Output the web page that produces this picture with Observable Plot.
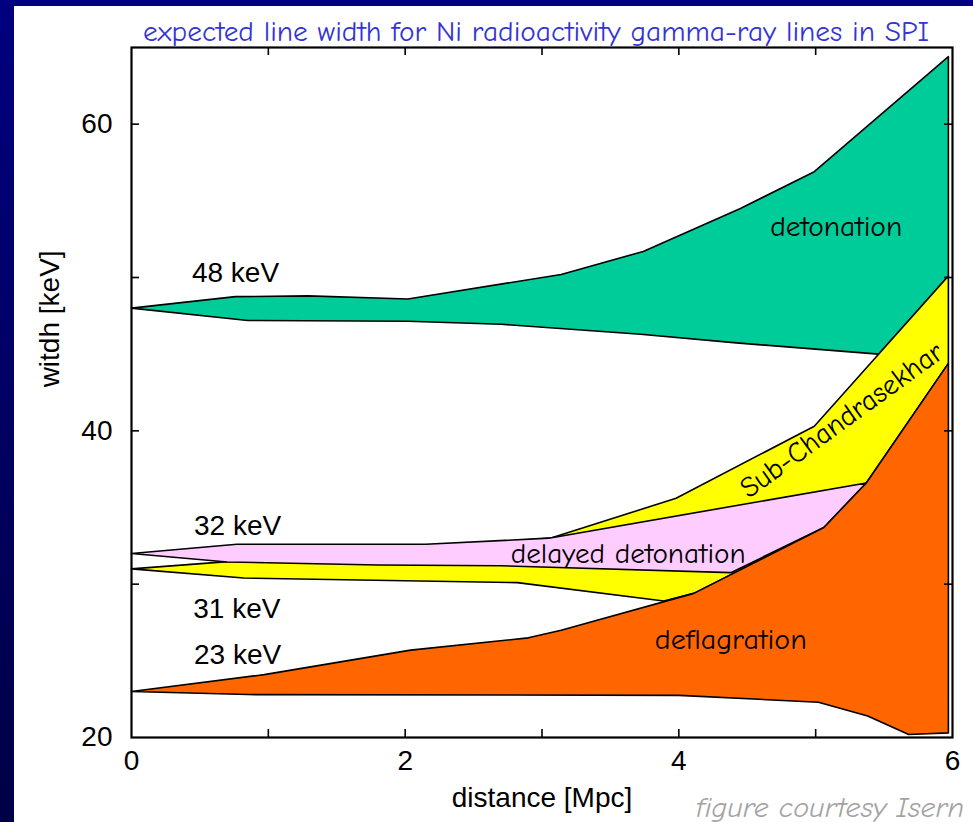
<!DOCTYPE html>
<html>
<head>
<meta charset="utf-8">
<script src="https://cdn.jsdelivr.net/npm/d3@7"></script>
<script src="https://cdn.jsdelivr.net/npm/@observablehq/plot@0.6"></script>
<style>
  html, body { margin: 0; padding: 0; }
  body { width: 973px; height: 822px; overflow: hidden; }
  #page { position: relative; width: 973px; height: 822px;
          background: linear-gradient(to bottom, #000080, #000046); }
  #panel { position: absolute; left: 14px; top: 6px; right: 0; bottom: 0; background: #fff; }
  #chart { position: absolute; left: 0; top: 0; }
</style>
</head>
<body>
<div id="page"><div id="panel"></div><div id="chart"></div></div>
<script>
// Axis ticks
const distanceLabels = [0, 2, 4, 6];
const widthLabels = [20, 40, 60];
const distanceMinor = [1, 2, 3, 4, 5];
const widthMinor = [30, 40, 50, 60];

// Line energies (keV) — width at zero distance
const lineEnergies = [48, 32, 31, 23];

// Envelope of expected line width vs distance [Mpc, keV]
const detonationUpper = [[0, 48], [0.76, 48.75], [1.29, 48.8], [2.02, 48.6], [3.14, 50.2], [3.74, 51.7], [4.45, 54.5], [4.99, 56.9], [5.97, 64.4]];
const detonationLower = [[0, 48], [0.85, 47.2], [2.02, 47.15], [2.7, 46.95], [3.72, 46.3], [4.4, 45.75], [5.46, 45.0], [5.97, 50.1]];

const subChandraUpper = [[0, 31], [0.75, 31.5], [3.06, 33.0], [3.98, 35.6], [4.99, 40.3], [5.97, 50.1]];
const subChandraLower = [[0, 31], [0.82, 30.4], [2.82, 30.1], [3.89, 28.9], [4.11, 29.4], [5.06, 33.7], [5.37, 36.6], [5.97, 44.4]];

const delayedUpper = [[0, 32], [0.77, 32.6], [2.15, 32.6], [3.05, 33.0], [5.37, 36.6]];
const delayedLower = [[0, 32], [0.7, 31.45], [1.8, 31.25], [2.7, 31.2], [4.38, 30.75], [5.06, 33.7], [5.37, 36.6]];

const deflagrationUpper = [[0, 23], [0.97, 24.1], [2.04, 25.7], [2.9, 26.5], [3.14, 27.0], [4.11, 29.4], [5.06, 33.7], [5.37, 36.6], [5.97, 44.4]];
const deflagrationLower = [[0, 23], [0.85, 22.8], [4.0, 22.75], [5.02, 22.3], [5.38, 21.4], [5.68, 20.2], [5.97, 20.3]];

// closed outline: upper edge left→right, lower edge right→left
const band = (upper, lower) =>
  upper.concat(lower.slice().reverse()).map(([d, w]) => ({d, w}));

const bands = [
  {pts: band(detonationUpper, detonationLower), fill: "#00cc99"},
  {pts: band(subChandraUpper, subChandraLower), fill: "#ffff00"},
  {pts: band(delayedUpper, delayedLower), fill: "#ffccff"},
  {pts: band(deflagrationUpper, deflagrationLower), fill: "#ff6600"}
];

const energyLabels = [
  {e: lineEnergies[0], d: 0.76, w: 50.3},
  {e: lineEnergies[1], d: 0.775, w: 33.8},
  {e: lineEnergies[2], d: 0.77, w: 28.4},
  {e: lineEnergies[3], d: 0.775, w: 25.4}
];

const modelLabels = [
  {t: "detonation", d: 5.15, w: 53.3, r: 0},
  {t: "delayed detonation", d: 3.63, w: 32.0, r: 0},
  {t: "deflagration", d: 4.38, w: 26.4, r: 0},
  {t: "Sub-Chandrasekhar", d: 5.19, w: 40.7, r: -36}
];

const comic = "'Comic Sans MS', 'Comic Neue', 'DejaVu Sans', sans-serif";

const svg = Plot.plot({
  width: 973,
  height: 822,
  marginLeft: 131,
  marginRight: 21,
  marginTop: 47,
  marginBottom: 85,
  style: {background: "transparent", fontFamily: "'Liberation Sans', Arial, sans-serif", fontSize: "28px", color: "black"},
  x: {domain: [0, 6]},
  y: {domain: [20, 65]},
  marks: [
    ...bands.map(b => Plot.line(b.pts, {x: "d", y: "w", curve: "linear-closed", fill: b.fill, stroke: "black", strokeWidth: 1.6})),
    Plot.frame({stroke: "black", strokeWidth: 2.2}),
    Plot.tickX(distanceMinor, {x: d => d, insetTop: 682, strokeWidth: 1.6}),
    Plot.tickX(distanceMinor, {x: d => d, insetBottom: 682, strokeWidth: 1.6}),
    Plot.tickY(widthMinor, {y: d => d, insetRight: 813, strokeWidth: 1.6}),
    Plot.tickY(widthMinor, {y: d => d, insetLeft: 813, strokeWidth: 1.6}),
    Plot.axisX(distanceLabels, {tickSize: 0, tickPadding: 13, label: null, fontSize: 28, tickFormat: d => String(d)}),
    Plot.axisY(widthLabels, {tickSize: 0, tickPadding: 19, label: null, fontSize: 28, tickFormat: d => String(d)}),
    Plot.text(energyLabels, {x: "d", y: "w", text: d => `${d.e} keV`, fontSize: 28}),
    Plot.text(modelLabels, {x: "d", y: "w", text: "t", rotate: "r", fontFamily: comic, fontSize: 29, fontWeight: 500}),
    Plot.text(["distance [Mpc]"], {frameAnchor: "bottom", dy: 69, text: d => d, fontSize: 28}),
    Plot.text(["witdh [keV]"], {x: 0, y: 47.3, dx: -81, rotate: -90, text: d => d, fontSize: 28}),
    Plot.text(["expected line width for Ni radioactivity gamma-ray lines in SPI"], {
      frameAnchor: "top", lineAnchor: "bottom", dx: -6, dy: -7, text: d => d,
      fontFamily: comic, fontSize: 29, fill: "#3434d4"
    }),
    Plot.text(["figure courtesy Isern"], {
      frameAnchor: "bottom", lineAnchor: "bottom", dx: 288, dy: 79, text: d => d,
      fontFamily: comic, fontSize: 29, fontStyle: "italic", fill: "#a3a3a3"
    })
  ]
});

// fit the hand-lettered labels to their lengths
const fitted = {
  "expected line width for Ni radioactivity gamma-ray lines in SPI": 786,
  "figure courtesy Isern": 268,
  "detonation": 132,
  "delayed detonation": 235,
  "deflagration": 152,
  "Sub-Chandrasekhar": 243
};
d3.select(svg).selectAll("text").each(function () {
  const len = fitted[this.textContent];
  if (len) d3.select(this).attr("textLength", len).attr("lengthAdjust", "spacingAndGlyphs");
});

document.getElementById("chart").appendChild(svg);
</script>
</body>
</html>
